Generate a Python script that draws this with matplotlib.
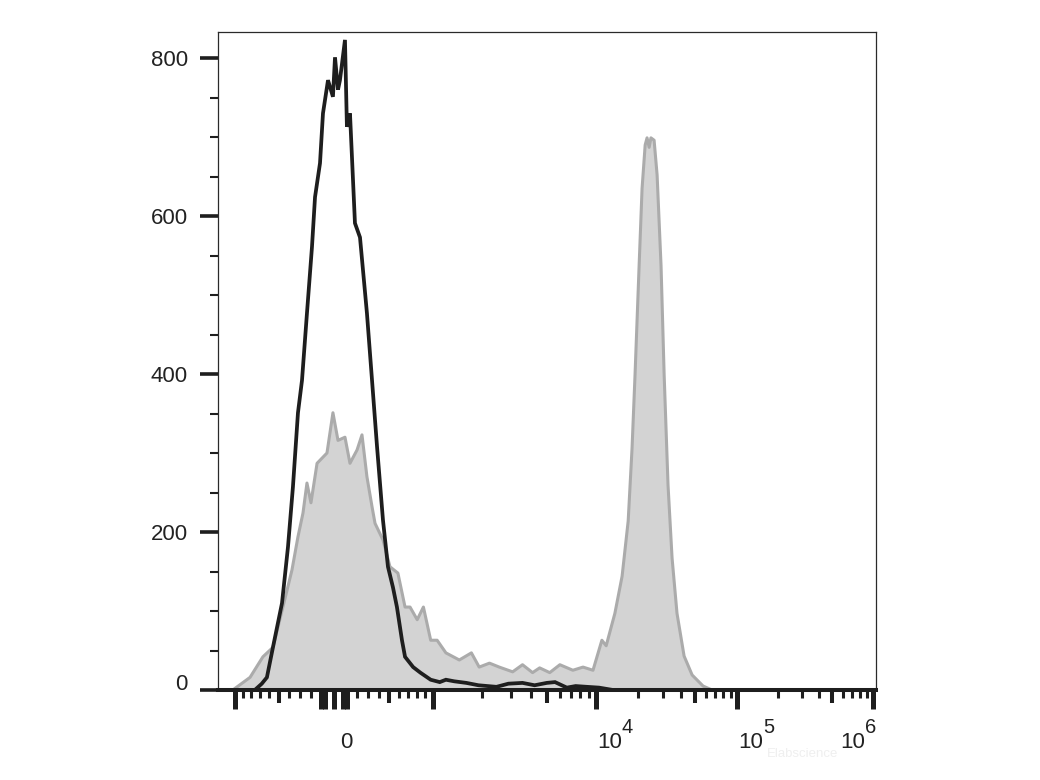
import numpy as np
import matplotlib
matplotlib.use('Agg')
import matplotlib.pyplot as plt
from matplotlib.transforms import ScaledTranslation, offset_copy

plt.rcParams['font.family'] = ['Liberation Sans', 'DejaVu Sans']

# control (black line) - fluorescence value vs events
control_x = [-1236, -814, -759, -681, -626, -563, -472, -414, -367, -320, -283, -238, -193, -166,
             -122, -96, -52, -9, 9, 35, 52, 96, 113, 140, 184, 229, 292, 339, 386, 443, 492, 542,
             583, 636, 669, 759, 843, 971, 1100, 1200, 1350, 1600, 1900, 2450, 2900, 3540, 4200,
             4990, 5600, 6620, 7500, 8800, 10500, 13200, 1050000]
control_counts = [0, 0, 0, 8, 16, 54, 110, 181, 257, 351, 392, 477, 561, 624,
                  667, 730, 772, 751, 801, 760, 772, 823, 713, 730, 591, 573, 477, 392, 308, 215, 156, 130,
                  105, 63, 42, 29, 22, 13, 10, 13, 11, 9, 6, 4, 8, 9, 6,
                  9, 10, 3, 5, 4, 3, 0, 0]

# stained sample (grey filled)
stained_x = [-1236, -1029, -814, -669, -563, -463, -376, -320, -274, -238, -202, -148, -61, -9, 35,
             96, 140, 203, 247, 292, 339, 367, 443, 512, 593, 669, 724, 806, 880, 971, 1060, 1200,
             1450, 1720, 1920, 2220, 2550, 3080, 3540, 4080, 4510, 5200, 6000, 7210, 8320, 9580,
             11000, 11800, 12600, 13600, 15300, 16900, 18000, 18900, 20200, 21200, 22300, 23000,
             23800, 24500, 25800, 27100, 28900, 30400, 32400, 34600, 37500, 42100, 48000, 57400,
             66500, 1050000]
stained_counts = [0, 0, 16, 42, 54, 105, 152, 194, 224, 262, 237, 287, 300, 351, 316,
                  320, 287, 304, 323, 270, 232, 211, 190, 156, 148, 105, 105, 89, 105, 63, 63, 47,
                  38, 47, 29, 34, 29, 23, 32, 22, 28, 22, 32, 25, 29, 25,
                  63, 56, 75, 97, 144, 214, 306, 399, 537, 635, 690, 699,
                  687, 699, 696, 652, 537, 399, 259, 167, 97, 43, 19, 5,
                  0, 0]

y_major = [0, 200, 400, 600, 800]
y_minor = [v for v in range(50, 850, 50) if v not in y_major]
decade_labels = [(1e4, '4'), (1e5, '5'), (1e6, '6')]

# biexponential-like display: asinh near zero, log above 10^3
LIN_WIDTH = 900.0
LIN_GAIN = 103.3
DECADES = [3, 4, 5, 6, 7]
DECADE_POS = [99, 262, 403, 539, 675]


def biex_fwd(v):
    v = np.asarray(v, dtype=float)
    lin = LIN_GAIN * np.arcsinh(v / LIN_WIDTH)
    lg = np.interp(np.log10(np.clip(v, 1000, None)), DECADES, DECADE_POS)
    return np.where(v > 1000, lg, lin)


def biex_inv(u):
    u = np.asarray(u, dtype=float)
    lin = LIN_WIDTH * np.sinh(np.clip(u, -700, 99) / LIN_GAIN)
    lg = 10 ** np.interp(u, DECADE_POS, DECADES)
    return np.where(u > 99, lg, lin)


lin_minor = [s * v for s in (-1, 1) for v in (200, 300, 400, 600, 700, 800, 900)]
log_minor = [m * 10 ** d for d in (3, 4, 5) for m in (2, 3, 4, 6, 7, 8, 9)]
x_major = [-1000, -110, -75, 0, 80, 115, 1e3, 1e4, 1e5, 1e6]
x_mid = [-500, 500, 5e3, 5e4, 5e5]
x_minor = lin_minor + log_minor

ink = '#1e1e1e'
fig = plt.figure(figsize=(10.4, 7.8), dpi=100)
ax = fig.add_axes([218 / 1040, 90 / 780, 658 / 1040, 658 / 780])
ax.set_xscale('function', functions=(biex_fwd, biex_inv))
xlim = (-1236, 1.05e6)
ax.set_xlim(*xlim)
ax.set_ylim(0, 833)

ax.fill_between(stained_x, stained_counts, 0, facecolor='#d3d3d3', edgecolor='none', zorder=1)
ax.plot(stained_x, stained_counts, color='#ababab', lw=2.2, zorder=2)
ax.plot(control_x, control_counts, color=ink, lw=2.7, zorder=3, solid_joinstyle='miter')

ax.set_xticks(x_major)
ax.set_xticks(x_minor, minor=True)
ax.tick_params(axis='x', which='major', direction='out', length=14, width=3.6, color=ink,
               labelbottom=False)
ax.tick_params(axis='x', which='minor', direction='out', length=6, width=2.2, color=ink)

ax.set_yticks(y_major)
ax.set_yticks(y_minor, minor=True)
ax.tick_params(axis='y', which='major', direction='out', length=13, width=2.6, color=ink,
               labelsize=16, labelcolor='#222222', pad=8.6)
ax.tick_params(axis='y', which='minor', direction='out', length=6, width=1.5, color=ink)

# medium ticks at the half decades
ax2 = ax.twiny()
ax2.set_xscale('function', functions=(biex_fwd, biex_inv))
ax2.set_xlim(*xlim)
ax2.xaxis.set_ticks_position('bottom')
ax2.set_xticks(x_mid)
ax2.tick_params(axis='x', which='major', direction='out', length=9.5, width=2.9, color=ink,
                labelbottom=False, labeltop=False)
for s in ax2.spines.values():
    s.set_visible(False)

ax.spines['bottom'].set_linewidth(2.9)
ax.spines['bottom'].set_color(ink)
for side in ('left', 'top', 'right'):
    ax.spines[side].set_linewidth(0.9)
    ax.spines[side].set_color('#2a2a2a')

# the "0" label on y sits a little above its tick
lbl0 = ax.yaxis.get_major_ticks()[0].label1
lbl0.set_transform(lbl0.get_transform() + ScaledTranslation(0, 6 / 72, fig.dpi_scale_trans))

xtrans = ax.get_xaxis_transform()
ax.text(0, 0, '0', transform=offset_copy(xtrans, fig=fig, x=8.6, y=-41.8, units='points'),
        ha='center', va='baseline', fontsize=16, color='#222222')
for (xv, ex), dx in zip(decade_labels, (0.7, 0.7, -23.8)):
    ax.text(xv, 0, '10', transform=offset_copy(xtrans, fig=fig, x=dx, y=-41.8, units='points'),
            ha='left', va='baseline', fontsize=16, color='#222222')
    ax.text(xv, 0, ex, transform=offset_copy(xtrans, fig=fig, x=dx + 17.8, y=-31, units='points'),
            ha='left', va='baseline', fontsize=14.5, color='#222222')

fig.text(0.772, 0.030, 'Elabscience', ha='center', va='baseline', fontsize=9.5, color='#efefef')

fig.savefig('out.png', dpi=100, facecolor='white')
